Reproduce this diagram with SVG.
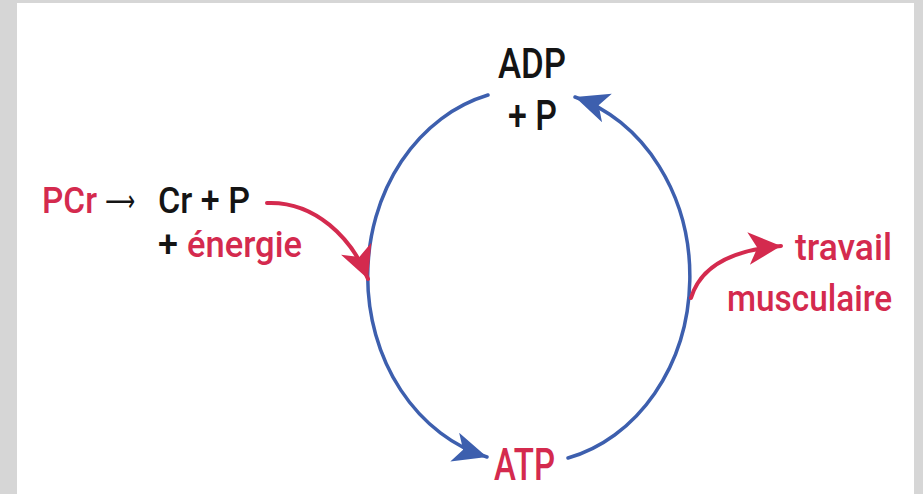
<svg xmlns="http://www.w3.org/2000/svg" width="923" height="494" viewBox="0 0 923 494">
<style>
.t{font-family:Roboto,"Liberation Sans",sans-serif;font-weight:500}
.k{fill:#141414}
.r{fill:#d42a4e}
.blue{fill:none;stroke:#3d5fae;stroke-width:3.5;stroke-linecap:round}
.red{fill:none;stroke:#d42a4e;stroke-width:4;stroke-linecap:round}
</style>
<defs>
<marker id="ab" markerUnits="userSpaceOnUse" markerWidth="40" markerHeight="40" viewBox="-30 -15 32 30" refX="0" refY="0" orient="auto">
<path d="M0,0 L-27,-12 L-20,0 L-27,12 Z" fill="#3d5fae"/>
</marker>
<marker id="ar" markerUnits="userSpaceOnUse" markerWidth="40" markerHeight="40" viewBox="-30 -15 32 30" refX="0" refY="0" orient="auto">
<path d="M0,0 L-26,-13 L-19,0 L-26,13 Z" fill="#d42a4e"/>
</marker>
</defs>
<rect x="0" y="0" width="923" height="494" fill="#d6d6d6"/>
<rect x="17" y="3" width="897" height="491" fill="#ffffff"/>
<g id="connectors">
<path class="blue" d="M488,95 A160,187 0 0 0 487,457" marker-end="url(#ab)"/>
<path class="blue" d="M568,458 A160,187 0 0 0 575,97" marker-end="url(#ab)"/>
<path class="red" d="M267,203 C315,201 352,238 368,279" marker-end="url(#ar)"/>
<path class="red" d="M691,298 C700,268 730,250 781,246" marker-end="url(#ar)"/>
</g>
<g id="adp">
<text class="t k" x="498" y="78" font-size="43" textLength="68" lengthAdjust="spacingAndGlyphs">ADP</text>
<text class="t k" x="508" y="130" font-size="42" textLength="49" lengthAdjust="spacingAndGlyphs">+ P</text>
</g>
<g id="atp">
<text class="t r" x="494" y="480" font-size="44" textLength="61" lengthAdjust="spacingAndGlyphs">ATP</text>
</g>
<g id="pcr">
<text class="t r" x="42" y="213" font-size="36" textLength="55" lengthAdjust="spacingAndGlyphs">PCr</text>
<text x="105" y="211" font-size="30" font-family="DejaVu Sans, sans-serif" fill="#141414" textLength="30" lengthAdjust="spacingAndGlyphs">⟶</text>
<text class="t k" x="158" y="213" font-size="36" textLength="92" lengthAdjust="spacingAndGlyphs">Cr + P</text>
<text class="t k" x="158" y="257" font-size="36">+</text>
<text class="t r" x="187" y="257" font-size="36" textLength="115" lengthAdjust="spacingAndGlyphs">énergie</text>
</g>
<g id="travail">
<text class="t r" x="892" y="260" font-size="37" text-anchor="end" textLength="97" lengthAdjust="spacingAndGlyphs">travail</text>
<text class="t r" x="892" y="311" font-size="37" text-anchor="end" textLength="165" lengthAdjust="spacingAndGlyphs">musculaire</text>
</g>
</svg>
